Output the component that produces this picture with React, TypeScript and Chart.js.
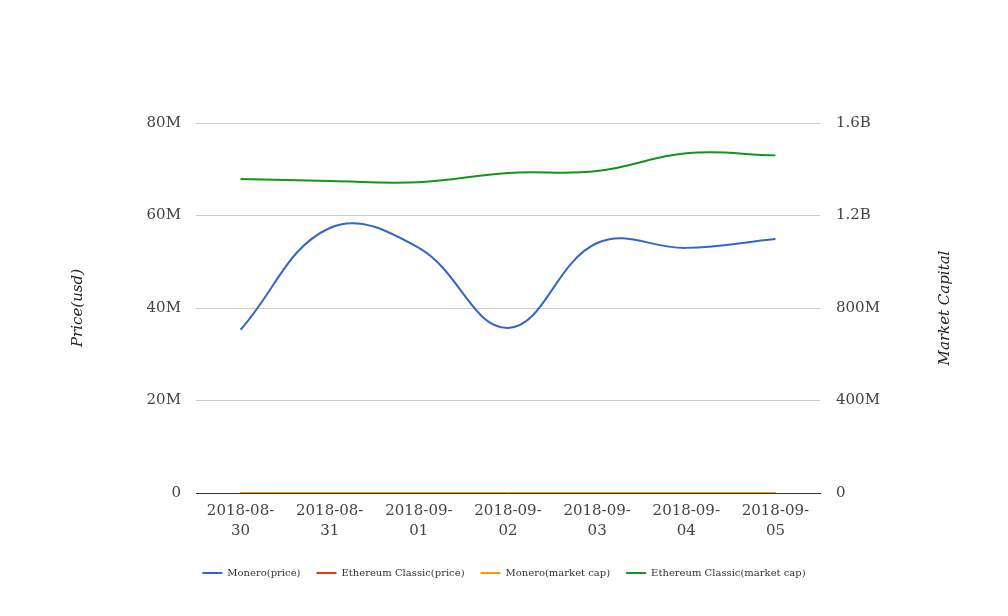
import React, { useEffect, useRef } from "react";
import { Chart, registerables } from "chart.js";

Chart.register(...registerables);

const categories = ["2018-08-30", "2018-08-31", "2018-09-01", "2018-09-02", "2018-09-03", "2018-09-04", "2018-09-05"];
const moneroPrice = [35.3e6, 57.3e6, 53.0e6, 35.7e6, 54.05e6, 53.0e6, 54.9e6];
const etcPrice = [12.6, 12.9, 13.2, 12.8, 13.0, 13.9, 13.5];
const moneroMarketCap = [118, 117, 121, 118, 122, 121, 119];
const etcMarketCap = [1.358e9, 1.349e9, 1.344e9, 1.384e9, 1.392e9, 1.469e9, 1.46e9];
const seriesNames = ["Monero(price)", "Ethereum Classic(price)", "Monero(market cap)", "Ethereum Classic(market cap)"];
const leftTitle = "Price(usd)";
const rightTitle = "Market Capital";

const FONT = "'DejaVu Serif', serif";

function fmtLeft(v: number) {
  if (v === 0) return "0";
  return v / 1e6 + "M";
}
function fmtRight(v: number) {
  if (v === 0) return "0";
  if (v >= 1e9) return v / 1e9 + "B";
  return v / 1e6 + "M";
}

const titlePlugin = {
  id: "sideTitles",
  afterDraw(chart: any) {
    const { ctx, chartArea } = chart;
    const cy = (chartArea.top + chartArea.bottom) / 2;
    const draw = (text: string, x: number) => {
      ctx.save();
      ctx.font = "italic 15px " + FONT;
      ctx.fillStyle = "#222222";
      ctx.textAlign = "center";
      ctx.textBaseline = "middle";
      ctx.translate(x, cy);
      ctx.rotate(-Math.PI / 2);
      ctx.fillText(text, 0, 0);
      ctx.restore();
    };
    draw(leftTitle, 78);
    draw(rightTitle, 945);
  },
};

export default function App() {
  const ref = useRef<HTMLCanvasElement | null>(null);
  useEffect(() => {
    if (!ref.current) return;
    const colors = ["#3366cc", "#dc3912", "#ff9900", "#109618"];
    const values = [moneroPrice, etcPrice, moneroMarketCap, etcMarketCap];
    const axes = ["y", "y", "y", "y1"];
    const orders = [1, 5, 2, 1];
    const chart = new Chart(ref.current, {
      type: "line",
      data: {
        labels: categories,
        datasets: seriesNames.map((name, i) => ({
          label: name,
          data: values[i],
          borderColor: colors[i],
          backgroundColor: colors[i],
          borderWidth: 2,
          pointRadius: 0,
          pointHoverRadius: 0,
          tension: 0.4,
          fill: false,
          yAxisID: axes[i],
          order: orders[i],
        })),
      },
      options: {
        animation: false,
        responsive: true,
        maintainAspectRatio: false,
        layout: { padding: { top: 123, bottom: 28, left: 0, right: 0 } },
        plugins: {
          legend: {
            position: "bottom",
            labels: {
              usePointStyle: true,
              pointStyle: "line",
              pointStyleWidth: 20,
              boxHeight: 10,
              padding: 16,
              color: "#333333",
              font: { family: FONT, size: 10 },
              sort: (a: any, b: any) => a.datasetIndex - b.datasetIndex,
            },
          },
          tooltip: { enabled: false },
        },
        scales: {
          x: {
            offset: true,
            grid: { display: false, drawTicks: false },
            border: { display: true, color: "#333333", width: 1 },
            ticks: {
              autoSkip: false,
              maxRotation: 0,
              minRotation: 0,
              padding: 8,
              color: "#444444",
              font: { family: FONT, size: 15, lineHeight: 1.35 },
              callback: (_v: any, i: number) => {
                const s = categories[i];
                return [s.slice(0, 8), s.slice(8)];
              },
            },
            afterFit: (s: any) => {
              s.height = 59;
            },
          },
          y: {
            position: "left",
            min: 0,
            max: 80e6,
            grid: { color: "#cccccc", drawTicks: false, lineWidth: 1 },
            border: { display: false },
            ticks: {
              stepSize: 20e6,
              padding: 15,
              color: "#444444",
              font: { family: FONT, size: 15 },
              callback: (v: any) => fmtLeft(Number(v)),
            },
            afterFit: (s: any) => {
              s.width = 196;
            },
          },
          y1: {
            position: "right",
            min: 0,
            max: 1.6e9,
            grid: { display: false, drawTicks: false },
            border: { display: false },
            ticks: {
              stepSize: 4e8,
              padding: 16,
              color: "#444444",
              font: { family: FONT, size: 15 },
              callback: (v: any) => fmtRight(Number(v)),
            },
            afterFit: (s: any) => {
              s.width = 188;
            },
          },
        },
      },
      plugins: [titlePlugin],
    });
    return () => chart.destroy();
  }, []);
  return (
    <div style={{ position: "absolute", left: 0, top: 0, width: 1008, height: 616, background: "#ffffff" }}>
      <canvas ref={ref} />
    </div>
  );
}
